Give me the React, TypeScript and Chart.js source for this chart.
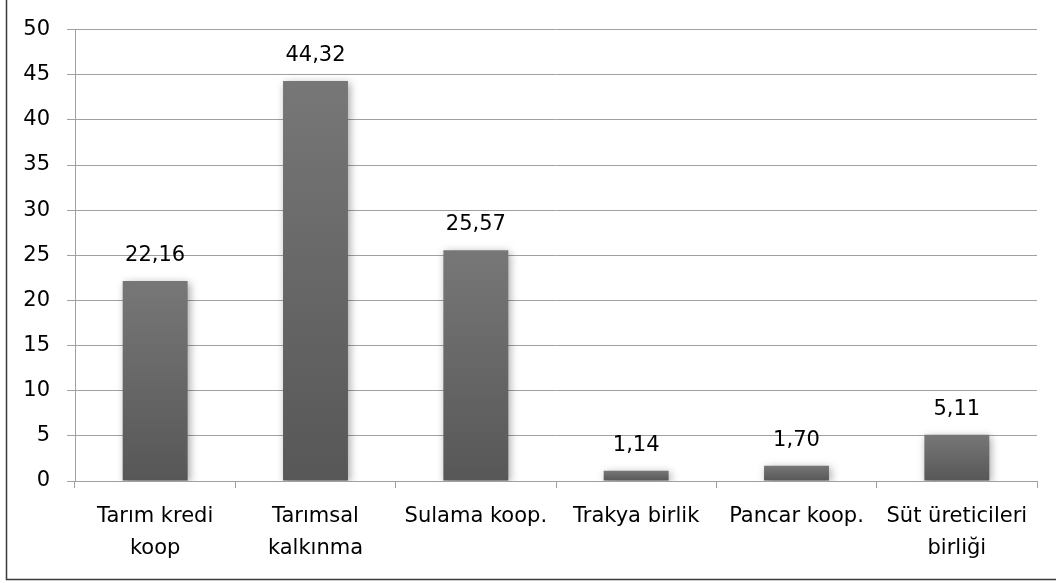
import React, { useEffect, useRef } from "react";
import { Chart, registerables } from "chart.js";

Chart.register(...registerables);

const categories: (string | string[])[] = [
  ["Tarım kredi", "koop"],
  ["Tarımsal", "kalkınma"],
  "Sulama koop.",
  "Trakya birlik",
  "Pancar koop.",
  ["Süt üreticileri", "birliği"],
];
const values: number[] = [22.16, 44.32, 25.57, 1.14, 1.7, 5.11];
const yMin = 0;
const yMax = 50;
const yStep = 5;

const FONT = "'DejaVu Sans'";
const FONT_SIZE = 21;

export default function App() {
  const ref = useRef<HTMLCanvasElement | null>(null);

  useEffect(() => {
    if (!ref.current) return;

    const shadowPlugin = {
      id: "barShadow",
      beforeDatasetDraw(chart: any) {
        const ctx = chart.ctx;
        ctx.save();
        ctx.shadowColor = "rgba(0,0,0,0.35)";
        ctx.shadowBlur = 8;
        ctx.shadowOffsetX = 2;
        ctx.shadowOffsetY = 2;
      },
      afterDatasetDraw(chart: any) {
        chart.ctx.restore();
      },
    };

    const labelPlugin = {
      id: "valueLabels",
      afterDatasetsDraw(chart: any) {
        const ctx = chart.ctx;
        const meta = chart.getDatasetMeta(0);
        ctx.save();
        ctx.font = `${FONT_SIZE}px ${FONT}`;
        ctx.fillStyle = "#000";
        ctx.textAlign = "center";
        ctx.textBaseline = "alphabetic";
        meta.data.forEach((bar: any, i: number) => {
          const v = chart.data.datasets[0].data[i] as number;
          ctx.fillText(v.toFixed(2).replace(".", ","), bar.x, bar.y - 20);
        });
        ctx.restore();
      },
    };

    const borderPlugin = {
      id: "outerBorder",
      afterDraw(chart: any) {
        const ctx = chart.ctx;
        ctx.save();
        ctx.strokeStyle = "#3a3a3a";
        ctx.lineWidth = 1.5;
        ctx.beginPath();
        ctx.moveTo(6.5, 0);
        ctx.lineTo(6.5, 579.5);
        ctx.lineTo(chart.width, 579.5);
        ctx.stroke();
        ctx.restore();
      },
    };

    const chart = new Chart(ref.current, {
      type: "bar",
      data: {
        labels: categories,
        datasets: [
          {
            data: values,
            backgroundColor: (c: any) => {
              const chartObj = c.chart;
              const y = chartObj.scales?.y;
              if (!y || c.raw === undefined) return "#666";
              const top = y.getPixelForValue(c.raw);
              const bottom = y.getPixelForValue(0);
              if (!isFinite(top) || !isFinite(bottom) || top === bottom) return "#666";
              const g = chartObj.ctx.createLinearGradient(0, top, 0, bottom);
              g.addColorStop(0, "#777777");
              g.addColorStop(1, "#575757");
              return g;
            },
            borderWidth: 0,
            barPercentage: 0.405,
            categoryPercentage: 1,
          },
        ],
      },
      options: {
        responsive: false,
        animation: false,
        devicePixelRatio: 1,
        layout: { padding: { left: 0, top: 29, right: 19, bottom: 0 } },
        plugins: {
          legend: { display: false },
          tooltip: { enabled: false },
        },
        scales: {
          x: {
            grid: {
              offset: true,
              drawOnChartArea: false,
              drawTicks: true,
              tickLength: 7,
              color: "#a0a0a0",
            },
            border: { color: "#a0a0a0", width: 1 },
            ticks: {
              color: "#000",
              font: { family: FONT, size: FONT_SIZE, lineHeight: 32 / FONT_SIZE },
              padding: 13,
              maxRotation: 0,
              autoSkip: false,
            },
            afterFit(scale: any) {
              scale.height = 102;
            },
          },
          y: {
            min: yMin,
            max: yMax,
            grid: {
              color: "#a0a0a0",
              tickLength: 8,
              lineWidth: 1,
            },
            border: { color: "#a0a0a0", width: 1 },
            ticks: {
              stepSize: yStep,
              color: "#000",
              font: { family: FONT, size: FONT_SIZE },
              padding: 17,
            },
            afterFit(scale: any) {
              scale.width = 75;
            },
          },
        },
      },
      plugins: [shadowPlugin, labelPlugin, borderPlugin],
    });

    return () => chart.destroy();
  }, []);

  return (
    <div style={{ position: "absolute", left: 0, top: 0, width: 1056, height: 583, background: "#fff" }}>
      <canvas ref={ref} width={1056} height={583} style={{ display: "block", width: 1056, height: 583 }} />
    </div>
  );
}
